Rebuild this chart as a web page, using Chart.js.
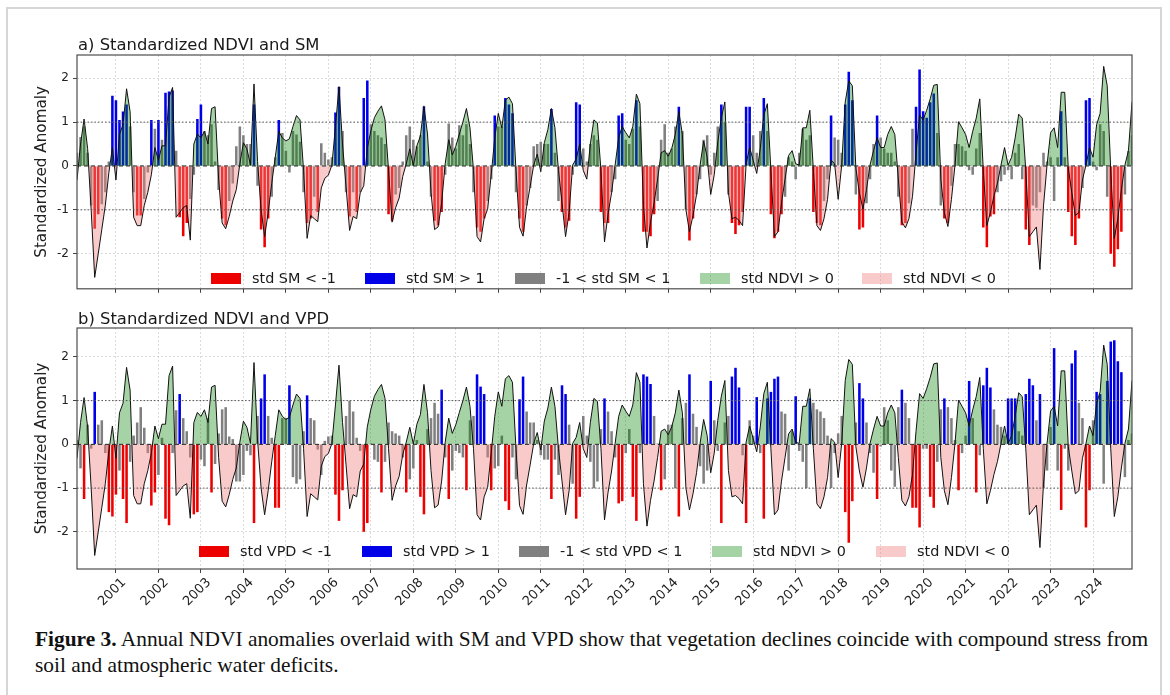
<!DOCTYPE html>
<html>
<head>
<meta charset="utf-8">
<title>Standardized NDVI with SM and VPD</title>
<script src="https://cdn.jsdelivr.net/npm/chart.js@4.4.1/dist/chart.umd.min.js"></script>
<style>
  html, body { margin: 0; padding: 0; background: #fff; }
  body { width: 1170px; height: 695px; position: relative; overflow: hidden; font-family: 'DejaVu Sans', sans-serif; color: #1a1a1a; }
  #outline { position: absolute; left: 6px; top: 7px; width: 1156px; height: 760px; border: 2px solid #d6d6d6; box-sizing: border-box; }
  canvas { position: absolute; left: 0; }
  #chartA { top: 0; }
  #chartB { top: 300px; }
  .title { position: absolute; left: 78px; font-size: 16.4px; line-height: 1; white-space: nowrap; color: #1a1a1a; }
  .legend .patch { position: absolute; width: 30px; height: 11px; }
  .legend .label { position: absolute; font-size: 14.4px; line-height: 1; white-space: nowrap; color: #1a1a1a; }
  #caption { position: absolute; left: 35px; top: 626px; font-family: 'Liberation Serif', serif; font-size: 21.4px; line-height: 26px; white-space: nowrap; color: #111; }
</style>
</head>
<body>
<div id="outline"></div>
<canvas id="chartA" width="1170" height="300"></canvas>
<canvas id="chartB" width="1170" height="310"></canvas>
<div class="title" style="top:36.6px">a) Standardized NDVI and SM</div>
<div class="title" style="top:310.6px">b) Standardized NDVI and VPD</div>
<div id="legendA" class="legend"></div>
<div id="legendB" class="legend"></div>
<div id="caption"><b>Figure 3.</b> Annual NDVI anomalies overlaid with SM and VPD show that vegetation declines coincide with compound stress from<br>soil and atmospheric water deficits.</div>

<script>
// Monthly series, Feb 2000 .. Dec 2024 (one row per calendar year)
const firstYear = 2000;
const firstMonth = 2;

// standardized NDVI anomaly
const ndvi = [
  -0.32, 0.5, 1.07, 0.4, -1.0, -2.54, -2.0, -1.45, -0.9, -0.15, 0.42,
  -0.32, 0.72, 0.94, 1.76, 1.24, -1.17, -1.36, -1.36, -0.9, -0.6, -0.2, 0.42,
  0.13, 0.46, 0.46, 1.57, 1.79, -1.17, -1.06, -0.95, -0.9, -1.69, 0.5, 0.73,
  0.64, 0.79, 0.5, 1.31, 1.35, -0.3, -1.3, -1.43, -1.15, -0.8, -0.54, 0.05,
  0.53, 0.39, 0.02, 1.87, 0.1, -1.0, -1.61, -1.06, -0.4, 0.2, 0.79, 0.64,
  0.57, 0.62, 0.9, 1.15, 1.05, -0.1, -1.65, -1.13, -1.2, -1.27, -0.5, -0.28,
  -0.21, 0.02, 0.9, 1.81, 0.5, -0.47, -1.47, -1.15, -1.2, -0.61, -0.45, 0.4,
  0.8, 1.1, 1.25, 1.37, 1.05, -0.1, -1.28, -0.95, -0.73, -0.24, 0.05, 0.39,
  0.01, 0.46, 0.68, 1.37, 0.73, -0.6, -1.45, -1.39, -0.84, 0.05, 0.6, 0.25,
  0.45, 0.73, 1.0, 1.31, 0.87, -0.1, -1.61, -1.73, -1.2, -0.98, -0.2, 0.64,
  1.2, 0.87, 1.5, 1.57, 1.42, -0.1, -1.4, -1.6, -0.93, -0.47, 0.02, 0.27,
  -0.13, 0.53, 0.83, 1.31, 0.87, -0.1, -0.84, -1.61, -1.06, 0.02, 0.16, 0.5,
  -0.1, -0.3, 0.5, 1.05, 0.98, -0.1, -1.73, -1.1, -0.61, 0.02, 0.64, 0.9,
  0.76, 0.64, 0.9, 1.64, 1.42, -0.9, -1.87, -1.28, -0.84, -0.3, 0.3, 0.35,
  0.22, 0.4, 0.72, 1.24, 0.72, -1.0, -1.5, -1.13, -0.65, 0.02, 0.57, 0.2,
  -0.65, -0.2, 0.55, 1.1, 1.46, -0.6, -1.2, -1.17, -1.24, -1.36, 0.05, 0.42,
  0.13, -0.17, 0.4, 1.16, 1.42, -0.1, -1.61, -1.5, -0.84, -0.3, 0.24, 0.35,
  0.05, 0.02, 0.87, 0.87, 1.27, -0.1, -1.36, -1.47, -1.2, -0.76, 0.13, 0.05,
  -0.76, 0.02, 1.46, 1.94, 1.83, -0.05, -0.61, -0.98, -0.54, 0.02, 0.35, 0.64,
  0.42, 0.42, 0.72, 0.9, 0.72, -0.3, -1.28, -1.41, -1.2, -0.69, 0.3, 1.16,
  1.05, 1.27, 1.53, 1.84, 1.86, -0.3, -1.06, -1.38, -0.76, 0.02, 1.01, 0.87,
  0.72, 0.42, 0.79, 1.09, 1.53, -0.1, -1.36, -1.06, -0.69, -0.39, 0.02, 0.42,
  0.02, 0.2, 0.64, 1.18, 1.09, -0.1, -1.61, -1.5, -1.39, -2.36, -0.91, 0.02,
  0.76, 0.87, 0.42, 1.68, 1.68, -0.05, -0.61, -1.13, -1.06, -0.32, 0.02, 0.42,
  0.2, 0.94, 1.2, 2.27, 1.83, -0.1, -1.65, -1.2, -0.54, 0.02, 0.35, 1.46
];

// standardized soil moisture
const sm = [
  0.3, 0.66, 0.9, 0.3, -0.9, -1.43, -1.1, -0.87, -0.6, 0.1, 1.6,
  1.5, 1.05, 1.24, 1.4, 0.9, -0.6, -1.13, -1.13, -0.75, -0.15, 1.05, 0.85,
  1.05, 0.6, 1.67, 1.7, 1.72, 0.35, -1.17, -1.6, -1.3, -0.75, -0.2, 1.07,
  1.4, 0.8, 0.7, 0.95, 0.1, -0.55, -1.2, -1.35, -0.8, -0.4, 0.45, 0.9,
  0.7, 0.5, 0.5, 1.4, -0.45, -1.45, -1.85, -1.2, -0.7, 0.2, 1.05, 0.75,
  0.35, -0.15, 0.8, 0.72, 0.55, -0.6, -1.3, -1.2, -0.7, -1.05, 0.52, 0.3,
  0.15, 0.2, 1.22, 1.8, 0.8, -0.6, -1.15, -0.6, -1.05, -0.6, 1.55, 1.95,
  0.95, 0.8, 0.7, 0.65, 0.5, -1.1, -1.25, -0.65, -0.5, 0.1, 0.7, 0.9,
  0.6, 0.45, 0.7, 1.35, 0.1, -0.7, -1.25, -1.35, -1.05, -0.2, 0.97, 0.65,
  0.4, 0.93, 0.7, 0.95, 0.5, -0.6, -1.4, -1.5, -1.2, -0.8, -0.3, 1.15,
  0.9, 0.9, 1.55, 1.4, 1.2, -0.6, -1.2, -1.5, -0.9, -0.5, 0.45, 0.5,
  0.55, 0.5, 0.5, 1.3, 0.3, -0.8, -1.05, -1.4, -1.25, -0.2, 1.45, 1.4,
  0.4, 0.1, 0.5, 0.7, 0.6, -1.05, -1.3, -1.3, -0.6, -0.3, 1.15, 1.2,
  0.6, 0.5, 0.85, 1.5, 0.9, -1.5, -1.5, -1.6, -1.1, -0.8, 0.6, 0.95,
  0.3, 0.4, 0.9, 1.35, 0.8, -1.0, -1.7, -1.2, -0.65, -0.3, 0.6, 0.7,
  -0.2, 0.3, 0.9, 1.4, 1.0, -0.65, -1.3, -1.55, -1.35, -1.05, 1.35, 1.35,
  0.7, 0.3, 0.8, 1.55, 0.8, -1.1, -1.65, -1.5, -1.1, -0.7, 0.2, 0.1,
  -0.3, 0.3, 0.85, 0.6, 0.7, -1.05, -1.3, -1.35, -0.8, -0.3, 1.15, 0.65,
  0.6, 0.3, 1.4, 2.15, 1.5, -0.65, -1.45, -1.4, -0.85, -0.3, 0.5, 1.15,
  0.65, 0.4, 0.3, 0.3, 0.1, -0.7, -1.35, -1.3, -0.85, 0.85, 1.35, 2.2,
  1.25, 1.1, 1.45, 1.65, 0.75, -0.9, -1.2, -1.3, -0.45, 0.5, 0.5, 0.45,
  0.35, -0.1, -0.2, 0.4, 0.75, -1.4, -1.85, -1.15, -1.1, -0.6, -0.35, -0.2,
  -0.1, -0.3, 0.3, 0.5, -0.3, -1.45, -1.8, -0.9, -0.95, -0.6, 0.3, 0.1,
  0.2, -0.8, 0.2, 1.25, 0.2, -1.05, -1.6, -1.8, -1.2, -0.5, 1.5, 1.55,
  0.1, -0.1, 0.95, 0.8, -0.7, -2.0, -2.3, -1.9, -1.5, -0.65, 0.35, 0.7
];

// standardized vapour pressure deficit
const vpd = [
  0.1, -0.55, -1.25, 0.45, -0.1, 1.2, 0.45, 0.55, -0.2, -1.55, -1.65,
  -1.15, -0.6, -1.25, -1.8, -0.4, 0.2, 0.5, 0.85, 0.38, -0.2, -1.4, -1.1,
  -0.7, 0.15, -1.7, -1.85, -0.2, 0.78, 1.15, 0.6, 0.3, -0.3, -1.6, -1.55,
  -0.35, -0.5, 0.6, -1.1, -0.45, 0.25, 0.8, 0.85, 0.18, 0.12, -0.85, -0.85,
  -0.7, -0.15, -0.25, -1.8, 0.65, 1.05, 1.6, 0.65, 0.15, -1.45, -1.45, 0.6,
  0.6, 1.35, -0.75, -0.9, -0.8, 0.3, 1.12, 0.6, 0.55, -0.12, -0.7, 0.08,
  0.18, 0.2, -1.15, -1.75, -1.05, 0.65, 1.0, 0.75, 0.15, -0.15, -2.0, -1.8,
  0.02, -0.35, -0.4, -1.1, -0.4, 0.5, 0.3, 0.25, 0.2, -0.3, -1.1, -0.8,
  -0.55, 0.1, -1.2, -1.6, 0.35, 0.6, 0.95, 0.7, 1.25, -0.3, -1.25, -0.6,
  -0.15, -0.2, -0.3, -1.05, 0.55, 0.65, 1.6, 1.32, 1.15, -0.3, -1.05, -0.55,
  -0.5, 0.2, -1.3, -1.5, -0.3, -0.8, 1.03, 1.55, 0.75, 0.5, 0.5, 0.1,
  -0.25, -0.35, -0.35, -1.25, -0.35, -0.7, 1.35, 1.15, 0.45, -0.9, -1.7, -1.2,
  0.65, 0.2, -0.4, -1.0, -0.85, 0.35, 1.05, 0.75, 0.3, -0.3, -1.35, -1.3,
  -0.2, 0.35, -1.2, -1.75, -0.2, 1.6, 1.55, 1.38, 0.65, 0.02, -1.05, -0.8,
  0.45, 0.45, -1.0, -1.65, 0.6, 0.95, 1.6, 0.7, 0.4, -0.5, -0.9, -0.6,
  1.45, 0.55, -0.15, -1.8, 0.5, 0.65, 1.55, 1.75, 1.3, -0.25, -1.8, 0.55,
  0.2, 1.08, -0.2, -1.7, 1.05, 1.2, 1.5, 1.55, 0.75, 0.7, -0.6, 0.3,
  1.1, -0.15, -0.4, -1.0, 1.05, 0.95, 0.8, 0.75, 0.6, 0.2, -1.0, -0.2,
  0.25, 0.65, -1.55, -2.25, -1.3, 0.5, 1.4, 1.05, 0.5, -0.2, -0.65, -1.25,
  -0.05, 0.85, 0.55, -0.6, -0.97, 0.85, 1.25, 0.95, 0.6, -1.45, -1.45, -1.9,
  -0.1, -0.1, -1.2, -1.45, -0.4, 0.8, 1.05, 0.85, 0.6, 0.1, -1.05, -0.2,
  0.2, 1.45, 0.6, -1.1, -0.25, 1.35, 1.75, 1.3, 0.8, 0.45, 0.4, 0.2,
  1.05, 1.05, 1.05, 0.3, 0.2, 1.15, 1.5, 1.35, 0.55, 1.15, -1.0, -0.6,
  0.4, 2.2, -0.6, -1.5, -0.1, -0.6, 1.85, 2.15, 0.95, 0.6, -1.9, -1.05,
  0.55, 1.2, 1.15, -0.9, 1.45, 2.35, 2.38, 1.9, 1.65, -0.75, 0.1, 0.25
];

// tick labels
const yearTicks = [2001, 2002, 2003, 2004, 2005, 2006, 2007, 2008, 2009, 2010, 2011, 2012,
                   2013, 2014, 2015, 2016, 2017, 2018, 2019, 2020, 2021, 2022, 2023, 2024];
const anomalyTicks = [-2, -1, 0, 1, 2];
const thresholds = [-1, 0, 1];

const legendA = ['std SM < -1', 'std SM > 1', '-1 < std SM < 1', 'std NDVI > 0', 'std NDVI < 0'];
const legendB = ['std VPD < -1', 'std VPD > 1', '-1 < std VPD < 1', 'std NDVI > 0', 'std NDVI < 0'];

// colours
const RED_BAR = 'rgb(236,0,0)';
const BLUE_BAR = 'rgb(0,0,232)';
const GRAY_BAR = 'rgb(128,128,128)';
const GREEN_FILL = 'rgba(0,128,0,0.35)';
const PINK_FILL = 'rgba(240,128,128,0.42)';
const GRID = '#d2d2d2';

Chart.defaults.font.family = "'DejaVu Sans', sans-serif";
Chart.defaults.color = '#222';

// decimal-year position of every month
const monthX = ndvi.map((_, i) => firstYear + (firstMonth - 1 + i) / 12);
const xMin = monthX[0];
const xMax = monthX[monthX.length - 1];

function barColor(v) {
    if (v < -1) return RED_BAR;
    if (v > 1) return BLUE_BAR;
    return GRAY_BAR;
}

// plot frame on all four sides
const frameBox = {
    id: 'frameBox',
    afterDatasetsDraw(chart) {
        const { ctx, chartArea: a } = chart;
        ctx.save();
        ctx.strokeStyle = '#4d4d4d';
        ctx.lineWidth = 1.2;
        ctx.strokeRect(a.left, a.top, a.right - a.left, a.bottom - a.top);
        ctx.restore();
    }
};

function makePanel(canvasId, bars, yMin, yMax, padTop, axisHeight, showYears) {
    const refLines = thresholds.map(t => ({
        type: 'line',
        data: [{ x: xMin, y: t }, { x: xMax, y: t }],
        borderColor: t === 0 ? '#222' : '#555',
        borderWidth: 1,
        borderDash: t === 0 ? [4, 3] : [1.5, 2],
        pointRadius: 0,
        fill: false,
        order: 1
    }));

    return new Chart(document.getElementById(canvasId), {
        type: 'bar',
        data: {
            datasets: [
                {
                    type: 'line',
                    data: ndvi.map((v, i) => ({ x: monthX[i], y: v })),
                    borderColor: '#111',
                    borderWidth: 1,
                    pointRadius: 0,
                    tension: 0,
                    fill: { target: 'origin', above: GREEN_FILL, below: PINK_FILL },
                    order: 2
                },
                ...refLines,
                {
                    type: 'bar',
                    data: bars.map((v, i) => ({ x: monthX[i], y: v })),
                    backgroundColor: bars.map(barColor),
                    borderWidth: 0,
                    categoryPercentage: 0.72,
                    barPercentage: 1,
                    order: 3
                }
            ]
        },
        options: {
            responsive: false,
            animation: false,
            devicePixelRatio: 1,
            layout: { padding: { left: 0, right: 38, top: padTop, bottom: 0 } },
            plugins: { legend: { display: false }, tooltip: { enabled: false } },
            scales: {
                x: {
                    type: 'linear',
                    min: xMin,
                    max: xMax,
                    bounds: 'data',
                    offset: false,
                    grid: { color: GRID, lineWidth: 0.8, offset: false, tickLength: 4, tickColor: '#444', tickWidth: 1 },
                    border: { display: false, dash: [2, 2] },
                    ticks: {
                        display: showYears,
                        autoSkip: false,
                        maxRotation: 45,
                        minRotation: 45,
                        padding: 2,
                        labelOffset: 8,
                        color: '#222',
                        font: { size: 13 },
                        callback: v => String(v)
                    },
                    afterBuildTicks: s => { s.ticks = yearTicks.map(v => ({ value: v })); },
                    afterFit: s => { s.height = axisHeight; }
                },
                y: {
                    min: yMin,
                    max: yMax,
                    bounds: 'data',
                    grid: { color: GRID, lineWidth: 0.8, tickLength: 4, tickColor: '#444', tickWidth: 1 },
                    border: { display: false, dash: [2, 2] },
                    ticks: {
                        padding: 4,
                        color: '#222',
                        font: { size: 12 },
                        callback: v => String(v)
                    },
                    afterBuildTicks: s => { s.ticks = anomalyTicks.map(v => ({ value: v })); },
                    title: {
                        display: true,
                        text: 'Standardized Anomaly',
                        color: '#222',
                        font: { size: 15.2 },
                        padding: { top: 33, bottom: 0 }
                    },
                    afterFit: s => { s.width = 77; }
                }
            }
        },
        plugins: [frameBox]
    });
}

function buildLegend(id, labels, lefts, centerY) {
    const colors = [RED_BAR, BLUE_BAR, GRAY_BAR, GREEN_FILL, PINK_FILL];
    const box = document.getElementById(id);
    labels.forEach((label, k) => {
        const patch = document.createElement('div');
        patch.className = 'patch';
        patch.style.left = lefts[k] + 'px';
        patch.style.top = (centerY - 5.5) + 'px';
        patch.style.background = colors[k];
        box.appendChild(patch);

        const text = document.createElement('div');
        text.className = 'label';
        text.textContent = label;
        text.style.left = (lefts[k] + 41) + 'px';
        text.style.top = (centerY - 6.9) + 'px';
        box.appendChild(text);
    });
}

makePanel('chartA', sm, -2.8, 2.53, 55, 5, false);
makePanel('chartB', vpd, -2.85, 2.66, 28, 41, true);

buildLegend('legendA', legendA, [211, 365, 515, 700, 862], 278);
buildLegend('legendB', legendB, [199, 362, 519, 712, 876], 551);
</script>
</body>
</html>
